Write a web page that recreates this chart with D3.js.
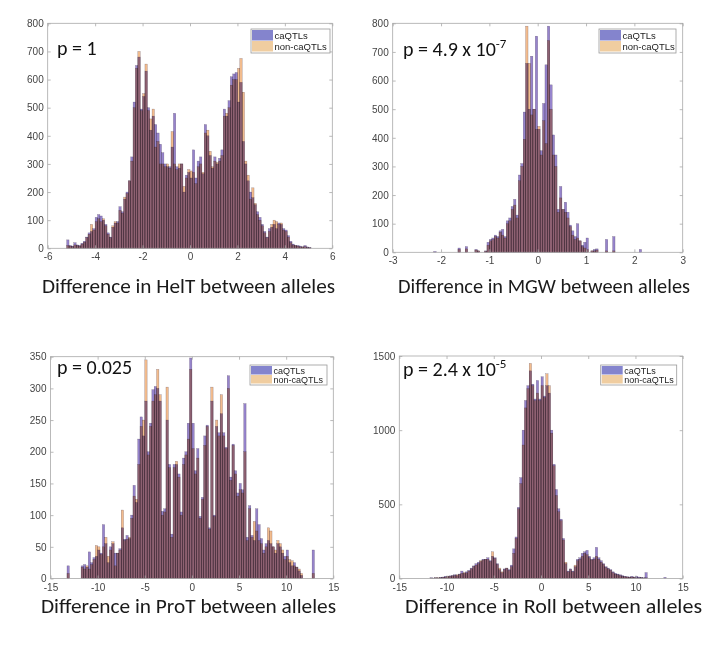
<!DOCTYPE html>
<html><head><meta charset="utf-8">
<script src="https://cdn.jsdelivr.net/npm/d3@7"></script>
<style>body{margin:0;background:#fff}svg{display:block}</style>
</head><body>
<script>
// ---------- DATA ----------
const seriesNames = ["caQTLs", "non-caQTLs"];

// HelT: bins of width 0.1 starting at -5.2
const heltBinStart = -5.2, heltBinWidth = 0.1;
const heltCa = [
30,10,8,20,12,10,18,25,40,55,
60,70,110,120,115,100,85,55,40,75,
90,95,148,130,175,200,240,325,520,650,
680,495,540,630,500,420,470,440,410,370,
340,300,290,290,360,480,290,285,300,200,
260,270,250,350,250,310,325,265,440,400,
330,285,325,300,320,350,495,470,525,610,
620,625,520,590,380,300,240,200,180,155,
130,110,85,60,40,70,75,85,70,90,
85,70,65,45,25,15,10,10,8,5,
10,5,3];
const heltNon = [
10,8,6,12,10,8,15,22,38,50,
85,65,95,105,95,105,80,50,38,80,
95,90,135,125,182,195,240,310,500,640,
700,490,550,655,490,460,495,360,380,300,
300,290,300,285,415,300,280,300,300,220,
250,280,275,270,230,290,300,270,410,420,
345,290,310,305,310,330,470,480,500,580,
600,600,640,675,555,310,260,175,215,160,
120,100,80,55,38,60,85,100,95,85,
90,65,60,40,20,12,10,8,5,5,
6,3,2];

// MGW: bins of width 0.05 starting at -2.2
const mgwBinStart = -2.2, mgwBinWidth = 0.05;
const mgwCa = [
0,3,0,0,0,0,0,0,0,0,
0,15,0,0,20,0,0,0,10,5,
0,0,5,35,45,50,60,55,75,80,
55,110,120,160,185,130,270,310,490,660,
500,685,500,755,430,355,520,655,790,585,
410,340,150,230,150,175,140,95,75,55,
100,40,25,35,50,0,5,10,12,0,
0,0,45,0,0,55,0,0,0,0,
0,0,0,0,0,0,10,0];
const mgwNon = [
0,0,0,0,0,0,0,0,0,0,
0,10,0,0,12,0,0,0,8,5,
0,0,4,25,40,45,55,50,70,60,
50,100,110,150,165,120,250,300,395,790,
660,480,500,430,440,340,460,380,740,500,
340,300,140,190,150,140,120,90,60,45,
50,40,20,15,10,0,5,5,8,0,
0,0,5,0,0,5,0,0,0,0,
0,0,0,0,0,0,0,0];

// ProT: bins of width 0.25 starting at -13.25
const protBinStart = -13.25, protBinWidth = 0.25;
const protCa = [
20,0,0,0,0,0,20,22,18,42,
25,33,35,45,40,85,55,25,50,55,
40,40,47,80,62,68,63,100,147,120,
220,255,225,280,200,245,298,303,300,280,
106,110,250,180,70,180,180,165,105,190,
200,245,348,245,170,205,98,128,225,242,
80,280,100,240,230,260,230,207,320,160,
212,170,135,150,140,276,65,115,68,60,
110,85,63,45,55,60,55,50,40,55,
50,40,35,45,25,20,25,18,12,5,
0,0,0,0,45,0];
const protNon = [
8,0,0,0,0,0,18,15,20,15,
22,30,52,50,38,50,65,35,45,58,
20,40,45,108,60,62,65,95,130,125,
180,240,250,345,195,240,280,290,330,290,
100,105,302,175,65,175,185,160,100,180,
195,220,330,205,165,190,95,125,210,240,
78,302,98,250,225,290,225,205,300,155,
210,165,130,140,135,200,60,110,65,90,
75,60,55,40,50,80,75,50,45,60,
55,45,30,35,30,28,20,18,15,8,
0,0,0,0,8,0];

// Roll: bins of width 0.25 starting at -12
const rollBinStart = -12, rollBinWidth = 0.25;
const rollCa = [
0,5,3,5,3,8,10,15,12,18,
20,25,20,30,50,35,45,55,70,85,
100,110,115,130,130,140,120,150,140,100,
60,40,65,70,60,90,200,280,480,680,
1000,1200,1300,1400,1310,1210,1335,1210,1360,1230,
1300,1250,1000,770,600,470,400,270,100,50,
65,50,80,130,140,170,180,190,150,130,
140,210,140,120,100,80,70,60,45,35,
30,25,20,15,12,10,15,10,15,10,
8,5,40,0,0,0,0,0,0,0,
8];
const rollNon = [
0,3,2,5,5,5,8,10,15,15,
18,20,25,28,35,40,38,50,65,80,
90,100,120,125,130,130,115,180,135,95,
70,45,60,70,55,80,170,270,470,640,
900,1150,1280,1450,1300,1200,1250,1200,1300,1220,
1380,1300,980,760,560,450,390,260,110,45,
60,45,90,120,130,150,170,160,140,125,
130,150,130,110,95,75,65,55,40,30,
25,20,15,12,10,8,10,8,5,5,
5,3,5,0,0,0,0,0,0,0,
0];

const heltXTicks = [-6,-4,-2,0,2,4,6], heltYTicks = [0,100,200,300,400,500,600,700,800];
const mgwXTicks = [-3,-2,-1,0,1,2,3], mgwYTicks = [0,100,200,300,400,500,600,700,800];
const protXTicks = [-15,-10,-5,0,5,10,15], protYTicks = [0,50,100,150,200,250,300,350];
const rollXTicks = [-15,-10,-5,0,5,10,15], rollYTicks = [0,500,1000,1500];

const xLabels = ["Difference in HelT between alleles","Difference in MGW between alleles",
                 "Difference in ProT between alleles","Difference in Roll between alleles"];
const pMain = ["p = 1","p = 4.9 x 10","p = 0.025","p = 2.4 x 10"];
const pExp = ["","-7","","-5"];

// ---------- DRAW ----------
const CA = "rgb(150,132,204)", NON = "rgb(242,188,142)";
const CA_LEG = "rgb(132,132,205)", NON_LEG = "rgb(240,205,160)";
const TITLE_FONT = "Carlito, Lato, 'Open Sans', sans-serif";
const TICK_FONT = "'Liberation Sans', Arial, sans-serif";

const svg = d3.select("body").append("svg").attr("width",725).attr("height",651);

function panel(o){
  const x = d3.scaleLinear().domain(o.xd).range([o.l,o.r]);
  const y = d3.scaleLinear().domain(o.yd).range([o.b,o.t]);
  const g = svg.append("g");
  const bins = o.ca.map((v,i)=>({x0:o.start+i*o.w, x1:o.start+(i+1)*o.w, ca:v, non:o.non[i]}));
  const bg = g.append("g").style("isolation","isolate");
  [["ca",CA],["non",NON]].forEach(([k,c])=>{
    bg.append("g").selectAll("rect").data(bins.filter(d=>d[k]>0)).join("rect")
      .attr("x",d=>x(d.x0)).attr("width",d=>x(d.x1)-x(d.x0))
      .attr("y",d=>y(d[k])).attr("height",d=>y(0)-y(d[k]))
      .attr("fill",c).attr("stroke","rgba(40,20,45,0.45)").attr("stroke-width",0.4)
      .style("mix-blend-mode","multiply");
  });
  // box
  g.append("rect").attr("x",o.l).attr("y",o.t).attr("width",o.r-o.l).attr("height",o.b-o.t)
    .attr("fill","none").attr("stroke","#a8a8a8").attr("stroke-width",0.8);
  const fmt = d=>String(d);
  const ax = g.append("g").attr("transform",`translate(0,${o.b})`)
    .call(d3.axisBottom(x).tickValues(o.xt).tickFormat(fmt).tickSizeInner(-3).tickSizeOuter(0).tickPadding(o.tp||5));
  const axT = g.append("g").attr("transform",`translate(0,${o.t})`)
    .call(d3.axisTop(x).tickValues(o.xt).tickFormat("").tickSizeInner(-3).tickSizeOuter(0));
  const ay = g.append("g").attr("transform",`translate(${o.l},0)`)
    .call(d3.axisLeft(y).tickValues(o.yt).tickFormat(fmt).tickSizeInner(-3).tickSizeOuter(0).tickPadding(4));
  const ayR = g.append("g").attr("transform",`translate(${o.r},0)`)
    .call(d3.axisRight(y).tickValues(o.yt).tickFormat("").tickSizeInner(-3).tickSizeOuter(0));
  [ax,axT,ay,ayR].forEach(a=>{
    a.select(".domain").remove();
    a.selectAll("line").attr("stroke","#a8a8a8").attr("stroke-width",0.8);
    a.selectAll("text").attr("fill","#444").style("font-family",TICK_FONT).style("font-size","10px");
  });
  // legend
  const L = o.leg;
  const lg = g.append("g");
  lg.append("rect").attr("x",L.x).attr("y",L.y).attr("width",L.w).attr("height",L.h)
    .attr("fill","#fff").attr("stroke","#9a9a9a").attr("stroke-width",0.8);
  const rh = (L.h-2)/2;
  [CA_LEG,NON_LEG].forEach((c,i)=>{
    lg.append("rect").attr("x",L.x+1).attr("y",L.y+1+i*rh).attr("width",21).attr("height",rh-0.5)
      .attr("fill",c);
    lg.append("text").attr("x",L.x+23.5).attr("y",L.y+1+i*rh+rh/2).attr("dy","0.35em")
      .style("font-family",TICK_FONT).style("font-size",L.fs+"px").attr("fill","#222")
      .text(seriesNames[i]);
  });
  // p value
  const pt = g.append("text").attr("x",o.px).attr("y",o.py)
    .style("font-family",TITLE_FONT).style("font-size","20px").attr("fill","#111");
  pt.append("tspan").text(pMain[o.idx]);
  if (pExp[o.idx]) pt.append("tspan").attr("dy",-8).style("font-size","13px").text(pExp[o.idx]);
  // x label
  svg.append("text").attr("x",o.lx).attr("y",o.ly)
    .attr("textLength",o.lw).attr("lengthAdjust","spacingAndGlyphs")
    .style("font-family",TITLE_FONT).style("font-size","20px").attr("fill","#1a1a1a")
    .text(xLabels[o.idx]);
}

panel({idx:0,l:47.7,r:332.3,t:23.3,b:248.3,xd:[-6,6],yd:[0,800],xt:heltXTicks,yt:heltYTicks,
  start:heltBinStart,w:heltBinWidth,ca:heltCa,non:heltNon,
  leg:{x:251,y:29,w:79,h:24,fs:9.5},px:57,py:55,lx:42,ly:293,lw:293});
panel({idx:1,l:392.7,r:682.7,t:23.3,b:252.3,xd:[-3,3],yd:[0,800],xt:mgwXTicks,yt:mgwYTicks,
  start:mgwBinStart,w:mgwBinWidth,ca:mgwCa,non:mgwNon,
  leg:{x:599,y:29,w:77,h:24,fs:9.5},px:403,py:56,lx:398,ly:293,lw:292});
panel({idx:2,l:50.5,r:333.3,t:356.7,b:578.5,xd:[-15,15],yd:[0,350],xt:protXTicks,yt:protYTicks,
  start:protBinStart,w:protBinWidth,ca:protCa,non:protNon,tp:5.5,
  leg:{x:250,y:365,w:77,h:20,fs:9},px:57,py:374,lx:41,ly:612.5,lw:295});
panel({idx:3,l:399.3,r:682.7,t:356,b:578.5,xd:[-15,15],yd:[0,1500],xt:rollXTicks,yt:rollYTicks,
  start:rollBinStart,w:rollBinWidth,ca:rollCa,non:rollNon,tp:5.5,
  leg:{x:600.7,y:365,w:76,h:20,fs:9},px:403,py:376,lx:405,ly:612.5,lw:297});
</script>
</body></html>
